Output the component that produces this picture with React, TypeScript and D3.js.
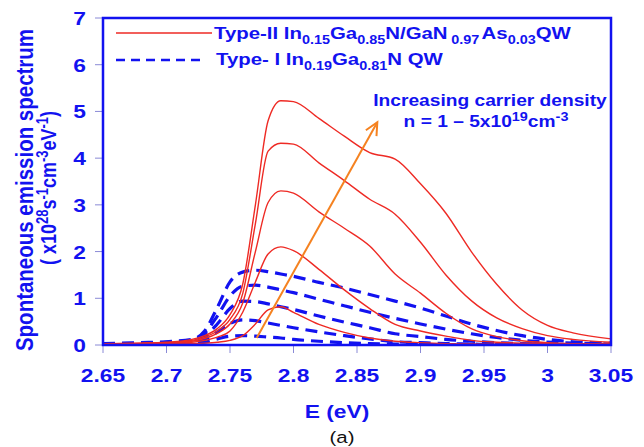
import * as d3 from 'd3';

// photon energy grid (eV)
const energy = [2.65, 2.68, 2.7, 2.72, 2.73, 2.74, 2.75, 2.76, 2.77, 2.78, 2.79, 2.8, 2.82, 2.84, 2.86, 2.88, 2.9, 2.92, 2.94, 2.96, 2.98, 3.0, 3.02, 3.05];

// Type-II InGaN/GaNAs QW, n = 1..5 x10^19 (lowest first)
const typeII = [
  [0.01, 0.015, 0.02, 0.03, 0.04, 0.06, 0.1, 0.2, 0.45, 0.75, 0.82, 0.7, 0.44, 0.27, 0.15, 0.08, 0.05, 0.03, 0.02, 0.015, 0.01, 0.01, 0.01, 0.01],
  [0.02, 0.025, 0.03, 0.06, 0.1, 0.17, 0.3, 0.7, 1.35, 1.95, 2.1, 2.02, 1.62, 1.18, 0.78, 0.44, 0.3, 0.19, 0.1, 0.06, 0.04, 0.03, 0.02, 0.02],
  [0.02, 0.03, 0.04, 0.08, 0.14, 0.25, 0.45, 0.9, 2.0, 3.05, 3.3, 3.25, 2.85, 2.5, 2.12, 1.52, 1.11, 0.68, 0.35, 0.18, 0.09, 0.05, 0.03, 0.02],
  [0.03, 0.04, 0.05, 0.1, 0.17, 0.3, 0.55, 1.1, 2.6, 4.15, 4.32, 4.3, 3.9, 3.52, 3.12, 2.8, 2.2, 1.5, 0.95, 0.58, 0.35, 0.2, 0.12, 0.06],
  [0.03, 0.04, 0.06, 0.12, 0.2, 0.35, 0.65, 1.3, 3.0, 4.8, 5.23, 5.21, 4.85, 4.47, 4.12, 3.98, 3.45, 2.82, 2.0, 1.3, 0.75, 0.42, 0.26, 0.13],
];

// Type-I InGaN QW (lowest first)
const typeI = [
  [0.01, 0.01, 0.02, 0.03, 0.06, 0.13, 0.19, 0.2, 0.19, 0.17, 0.15, 0.12, 0.08, 0.05, 0.03, 0.02, 0.01, 0.01, 0.01, 0.005, 0.005, 0.005, 0.005, 0.005],
  [0.01, 0.02, 0.03, 0.05, 0.12, 0.28, 0.46, 0.54, 0.52, 0.47, 0.42, 0.37, 0.28, 0.2, 0.13, 0.07, 0.05, 0.03, 0.02, 0.01, 0.01, 0.01, 0.01, 0.01],
  [0.02, 0.03, 0.04, 0.08, 0.18, 0.45, 0.78, 0.94, 0.93, 0.88, 0.82, 0.76, 0.62, 0.49, 0.37, 0.24, 0.18, 0.12, 0.08, 0.05, 0.03, 0.02, 0.01, 0.01],
  [0.02, 0.04, 0.06, 0.1, 0.25, 0.62, 1.05, 1.26, 1.28, 1.24, 1.18, 1.12, 0.98, 0.84, 0.7, 0.57, 0.45, 0.34, 0.24, 0.16, 0.1, 0.06, 0.04, 0.02],
  [0.03, 0.05, 0.07, 0.12, 0.3, 0.8, 1.35, 1.56, 1.6, 1.57, 1.52, 1.47, 1.34, 1.22, 1.08, 0.94, 0.79, 0.62, 0.45, 0.31, 0.2, 0.12, 0.07, 0.04],
];

const xTicks = [2.65, 2.7, 2.75, 2.8, 2.85, 2.9, 2.95, 3, 3.05];
const xTickLabels = ['2.65', '2.7', '2.75', '2.8', '2.85', '2.9', '2.95', '3', '3.05'];
const yTicks = [0, 1, 2, 3, 4, 5, 6, 7];

// orange "increasing density" arrow, in data units
const arrowE = [2.771, 2.866];
const arrowV = [0.15, 4.77];

const W = 644;
const H = 447;
const BLUE = '#1212f0';
const RED = '#ee2a24';
const ORANGE = '#f58220';
const SX = 1.2; // the original text is stretched horizontally

function T({ x, y, size, anchor = 'start', weight = 'bold', fill = BLUE, rotate = false, children }: any) {
  const tr = `translate(${x},${y}) scale(${SX},1)` + (rotate ? ' rotate(-90)' : '');
  return (
    <text transform={tr} fontSize={size} fontWeight={weight} fill={fill} textAnchor={anchor}>
      {children}
    </text>
  );
}

export default function App() {
  const x = d3.scaleLinear().domain([2.65, 3.05]).range([103, 611]);
  const y = d3.scaleLinear().domain([0, 7]).range([345, 18]);

  const line = d3
    .line<number>()
    .x((_, i) => x(energy[i]))
    .y((d) => y(d))
    .curve(d3.curveMonotoneX);

  const [x0, x1] = x.range();
  const [yb, yt] = y.range();

  // arrow geometry
  const ax0 = x(arrowE[0]);
  const ay0 = y(arrowV[0]);
  const ax1 = x(arrowE[1]);
  const ay1 = y(arrowV[1]);
  const ang = Math.atan2(ay1 - ay0, ax1 - ax0);
  const head = 14;
  const spread = 0.45;
  const barb = (s: number) => [ax1 - head * Math.cos(ang + s * spread), ay1 - head * Math.sin(ang + s * spread)];
  const b1 = barb(1);
  const b2 = barb(-1);

  return (
    <svg
      width={W}
      height={H}
      style={{ position: 'absolute', left: 0, top: 0, background: '#fff' }}
      fontFamily="'Liberation Sans', Arial, sans-serif"
    >
      <defs>
        <clipPath id="plot">
          <rect x={x0} y={yt} width={x1 - x0} height={yb - yt} />
        </clipPath>
      </defs>

      {/* ticks */}
      {xTicks.map((t) => (
        <line key={'xt' + t} x1={x(t)} x2={x(t)} y1={yb} y2={yb + 8} stroke="#8a8ad6" strokeWidth={1} />
      ))}
      {yTicks.map((t) => (
        <line key={'yt' + t} x1={x0 - 8} x2={x0} y1={y(t)} y2={y(t)} stroke="#8a8ad6" strokeWidth={1} />
      ))}

      <g clipPath="url(#plot)">
        {typeI.map((s, i) => (
          <path key={'b' + i} d={line(s) || ''} fill="none" stroke={BLUE} strokeWidth={3.2} strokeDasharray="12,7" />
        ))}
        {typeII.map((s, i) => (
          <path key={'r' + i} d={line(s) || ''} fill="none" stroke={RED} strokeWidth={1.4} />
        ))}
      </g>

      <rect x={x0} y={yt} width={x1 - x0} height={yb - yt} fill="none" stroke={BLUE} strokeWidth={2.5} />

      {/* arrow */}
      <line x1={ax0} y1={ay0} x2={ax1} y2={ay1} stroke={ORANGE} strokeWidth={2} />
      <polyline points={`${b1[0]},${b1[1]} ${ax1},${ay1} ${b2[0]},${b2[1]}`} fill="none" stroke={ORANGE} strokeWidth={2} />

      {/* tick labels */}
      {xTicks.map((t, i) => (
        <T key={'xl' + t} x={x(t)} y={382} size={19} anchor="middle">
          {xTickLabels[i]}
        </T>
      ))}
      {yTicks.map((t) => (
        <T key={'yl' + t} x={86} y={y(t) + 7} size={19} anchor="end">
          {t}
        </T>
      ))}

      {/* axis titles */}
      <T x={337} y={418} size={19} anchor="middle">E (eV)</T>
      <T x={342} y={443} size={17} anchor="middle" weight="normal" fill="#111">(a)</T>
      <T x={33} y={190} size={20.5} anchor="middle" rotate>
        Spontaneous emission spectrum
      </T>
      <T x={56} y={188} size={18} anchor="middle" rotate>
        ( x10<tspan dy={-7} fontSize={13}>28</tspan>
        <tspan dy={7}>s</tspan>
        <tspan dy={-7} fontSize={13}>-1</tspan>
        <tspan dy={7}>cm</tspan>
        <tspan dy={-7} fontSize={13}>-3</tspan>
        <tspan dy={7}>eV</tspan>
        <tspan dy={-7} fontSize={13}>-1</tspan>
        <tspan dy={7}>)</tspan>
      </T>

      {/* legend */}
      <line x1={116} x2={212} y1={33} y2={33} stroke={RED} strokeWidth={1.4} />
      <T x={214} y={39} size={17}>
        Type-II In<tspan dy={5} fontSize={12}>0.15</tspan>
        <tspan dy={-5}>Ga</tspan>
        <tspan dy={5} fontSize={12}>0.85</tspan>
        <tspan dy={-5}>N/GaN</tspan>
        <tspan dy={5} dx={3} fontSize={12}>0.97</tspan>
        <tspan dy={-5} dx={2}>As</tspan>
        <tspan dy={5} fontSize={12}>0.03</tspan>
        <tspan dy={-5}>QW</tspan>
      </T>
      <line x1={116} x2={200} y1={60} y2={60} stroke={BLUE} strokeWidth={2.4} strokeDasharray="9,6" />
      <T x={216} y={65} size={17}>
        Type- I In<tspan dy={5} fontSize={12}>0.19</tspan>
        <tspan dy={-5}>Ga</tspan>
        <tspan dy={5} fontSize={12}>0.81</tspan>
        <tspan dy={-5}>N QW</tspan>
      </T>

      {/* annotation */}
      <T x={490} y={106} size={16} anchor="middle">
        Increasing carrier density
      </T>
      <T x={486} y={127} size={16} anchor="middle">
        n = 1 – 5x10<tspan dy={-6} fontSize={12}>19</tspan>
        <tspan dy={6}>cm</tspan>
        <tspan dy={-6} fontSize={12}>-3</tspan>
      </T>
    </svg>
  );
}
